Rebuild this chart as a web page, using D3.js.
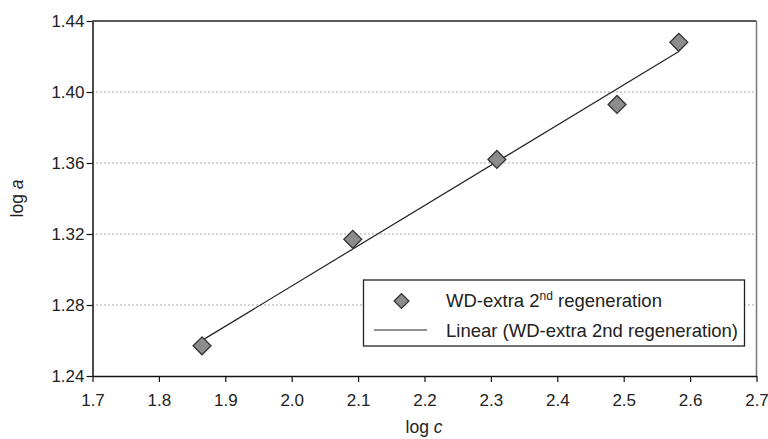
<!DOCTYPE html>
<html><head><meta charset="utf-8">
<script src="https://cdn.jsdelivr.net/npm/d3@7"></script>
<style>body{margin:0;background:#fff;} svg{display:block;font-family:"Liberation Sans",Arial,sans-serif;}</style>
</head><body>
<svg id="c" width="768" height="439"></svg>
<script>
const logC = [1.865, 2.092, 2.309, 2.490, 2.583];
const logA = [1.257, 1.317, 1.362, 1.393, 1.428];
const xTicks = [1.7, 1.8, 1.9, 2.0, 2.1, 2.2, 2.3, 2.4, 2.5, 2.6, 2.7];
const yTicks = [1.24, 1.28, 1.32, 1.36, 1.40, 1.44];

const svg = d3.select("#c");
const L = 92.5, R = 756.5, T = 21, B = 376;
const x = d3.scaleLinear().domain([1.7, 2.7]).range([L, R]);
const y = d3.scaleLinear().domain([1.24, 1.44]).range([B, T]);

// gridlines
svg.append("g").selectAll("line").data(yTicks.slice(1, -1)).join("line")
  .attr("x1", L).attr("x2", R).attr("y1", d => y(d)).attr("y2", d => y(d))
  .attr("stroke", "#555").attr("stroke-width", 1).attr("stroke-dasharray", "1,3");

// frame top/right
svg.append("line").attr("x1", L).attr("x2", R).attr("y1", T).attr("y2", T).attr("stroke", "#222").attr("stroke-width", 1.5);
svg.append("line").attr("x1", R).attr("x2", R).attr("y1", T).attr("y2", B).attr("stroke", "#777").attr("stroke-width", 1.5);

// axes
const xAxis = svg.append("g").attr("transform", `translate(0,${B})`)
  .call(d3.axisBottom(x).tickValues(xTicks).tickFormat(d3.format(".1f")).tickSize(6).tickSizeOuter(0));
const yAxis = svg.append("g").attr("transform", `translate(${L},0)`)
  .call(d3.axisLeft(y).tickValues(yTicks).tickFormat(d3.format(".2f")).tickSize(6).tickSizeOuter(0));
[xAxis, yAxis].forEach(g => {
  g.select(".domain").attr("stroke", "#111").attr("stroke-width", 1.5);
  g.selectAll(".tick line").attr("stroke", "#111").attr("stroke-width", 1.2);
  g.selectAll(".tick text").attr("fill", "#222").style("font-size", "17px")
   .style("font-family", "'Liberation Sans',Arial,sans-serif");
});
xAxis.selectAll(".tick text").attr("dy", "0").attr("y", 30);
yAxis.selectAll(".tick text").attr("x", -8);

// linear fit
const mx = d3.mean(logC), my = d3.mean(logA);
const slope = d3.sum(logC.map((v, i) => (v - mx) * (logA[i] - my))) / d3.sum(logC.map(v => (v - mx) ** 2));
const icpt = my - slope * mx;
const x0 = d3.min(logC), x1 = d3.max(logC);
svg.append("line").attr("x1", x(x0)).attr("y1", y(icpt + slope * x0))
  .attr("x2", x(x1)).attr("y2", y(icpt + slope * x1))
  .attr("stroke", "#222").attr("stroke-width", 1.2);

// markers
const diamond = d3.symbol().type(d3.symbolSquare).size(160);
svg.append("g").selectAll("path").data(logC).join("path")
  .attr("d", diamond)
  .attr("transform", (d, i) => `translate(${x(d)},${y(logA[i])}) rotate(45)`)
  .attr("fill", "#8c8c8c").attr("stroke", "#333").attr("stroke-width", 1.3);

// legend
const lg = svg.append("g");
lg.append("rect").attr("x", 363.5).attr("y", 280).attr("width", 381).attr("height", 66)
  .attr("fill", "#fff").attr("stroke", "#222").attr("stroke-width", 1.3);
lg.append("path").attr("d", d3.symbol().type(d3.symbolSquare).size(110))
  .attr("transform", "translate(401.5,301) rotate(45)")
  .attr("fill", "#8c8c8c").attr("stroke", "#333").attr("stroke-width", 1.3);
const t1 = lg.append("text").attr("x", 446).attr("y", 307).attr("fill", "#222").style("font-size", "18.5px");
t1.append("tspan").text("WD-extra 2");
t1.append("tspan").text("nd").attr("dy", -7).style("font-size", "12px");
t1.append("tspan").text(" regeneration").attr("dy", 7);
lg.append("line").attr("x1", 374).attr("x2", 427).attr("y1", 330).attr("y2", 330).attr("stroke", "#222").attr("stroke-width", 1.2);
lg.append("text").attr("x", 446).attr("y", 337).attr("fill", "#222").style("font-size", "18.5px")
  .text("Linear (WD-extra 2nd regeneration)");

// axis titles
const xt = svg.append("text").attr("x", 424).attr("y", 433).attr("text-anchor", "middle").attr("fill", "#222").style("font-size", "17.5px");
xt.append("tspan").text("log ");
xt.append("tspan").text("c").style("font-style", "italic");
const yt = svg.append("text").attr("transform", `translate(23,${(T + B) / 2}) rotate(-90)`).attr("text-anchor", "middle").attr("fill", "#222").style("font-size", "17.5px");
yt.append("tspan").text("log ");
yt.append("tspan").text("a").style("font-style", "italic");
</script>
</body></html>
